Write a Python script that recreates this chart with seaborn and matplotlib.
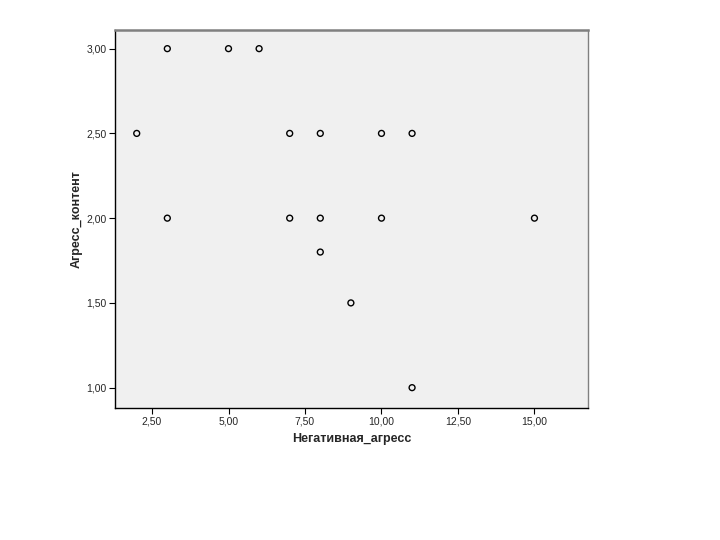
import matplotlib
matplotlib.use("Agg")
import matplotlib.pyplot as plt
import seaborn as sns
import pandas as pd
from matplotlib.ticker import FixedLocator, FuncFormatter

negative = [3, 5, 6, 2, 7, 8, 10, 11, 3, 7, 8, 10, 15, 8, 9, 11]
content = [3.0, 3.0, 3.0, 2.5, 2.5, 2.5, 2.5, 2.5, 2.0, 2.0, 2.0, 2.0, 2.0, 1.8, 1.5, 1.0]
x_ticks = [2.5, 5.0, 7.5, 10.0, 12.5, 15.0]
y_ticks = [1.0, 1.5, 2.0, 2.5, 3.0]

df = pd.DataFrame({"Негативная_агресс": negative, "Агресс_контент": content})

sns.set_style("white")
plt.rcParams["font.family"] = ["Arial", "Liberation Sans", "DejaVu Sans"]

fig = plt.figure(figsize=(7.2, 5.4), dpi=100)
ax = fig.add_axes([115/720, 1 - 408/540, (588-115)/720, (408-30)/540])
ax.set_facecolor("#f0f0f0")

sns.scatterplot(data=df, x="Негативная_агресс", y="Агресс_контент", ax=ax,
                marker="o", s=18, facecolor="none", edgecolor="black", linewidth=1.0)

ax.set_xlim(1.29, 16.75)
ax.set_ylim(0.88, 3.11)
ax.xaxis.set_major_locator(FixedLocator(x_ticks))
ax.yaxis.set_major_locator(FixedLocator(y_ticks))
fmt = FuncFormatter(lambda v, p: f"{v:.2f}".replace(".", ","))
ax.xaxis.set_major_formatter(fmt)
ax.yaxis.set_major_formatter(fmt)
ax.tick_params(axis="both", which="major", direction="out", length=4, width=0.8,
               labelsize=7.5, color="black", bottom=True, left=True, pad=2)
for side in ["left", "bottom"]:
    ax.spines[side].set_color("black")
    ax.spines[side].set_linewidth(1.0)
for side in ["top", "right"]:
    ax.spines[side].set_color("#808080")
    ax.spines[side].set_linewidth(1.0)
ax.spines["top"].set_linewidth(1.8)

ax.set_xlabel("Негативная_агресс", fontsize=9, fontweight="bold", labelpad=5)
ax.set_ylabel("Агресс_контент", fontsize=9, fontweight="bold", labelpad=3)

fig.savefig("out.png", dpi=100, facecolor="white")
